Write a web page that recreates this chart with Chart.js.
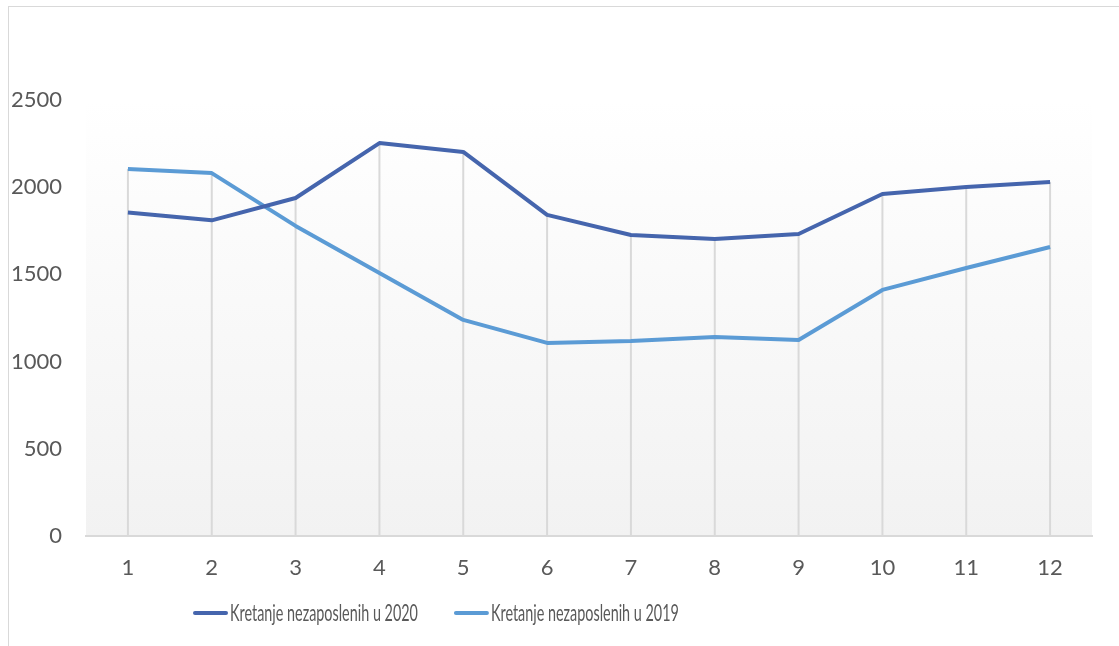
<!DOCTYPE html>
<html>
<head>
<meta charset="utf-8">
<script src="https://cdn.jsdelivr.net/npm/chart.js@4.4.1/dist/chart.umd.min.js"></script>
<style>
    html, body { margin: 0; padding: 0; background: #fff; }
    #wrap { position: relative; width: 1119px; height: 646px; overflow: hidden; }
    #frame { position: absolute; left: 8px; top: 6px; width: 1200px; height: 700px;
             border-left: 1px solid #d9d9d9; border-top: 1px solid #d9d9d9; }
    #chart { position: absolute; left: 0; top: 0; }
</style>
</head>
<body>
<div id="wrap">
    <div id="frame"></div>
    <canvas id="chart" width="1119" height="646"></canvas>
</div>
<script>
// Chart data
const months = ['1', '2', '3', '4', '5', '6', '7', '8', '9', '10', '11', '12'];
const nezaposleni2020 = [1855, 1810, 1938, 2253, 2202, 1841, 1726, 1703, 1732, 1961, 2001, 2030];
const nezaposleni2019 = [2104, 2081, 1778, 1508, 1239, 1107, 1118, 1141, 1124, 1411, 1537, 1657];
const yTicks = [0, 500, 1000, 1500, 2000, 2500];

const textColor = '#595959';
const fontFamily = 'Lato, "Open Sans", sans-serif';

// Plot area gradient background
const plotBackground = {
    id: 'plotBackground',
    beforeDraw(chart) {
        const { ctx, chartArea } = chart;
        const grad = ctx.createLinearGradient(0, chartArea.top, 0, chartArea.bottom);
        grad.addColorStop(0, '#ffffff');
        grad.addColorStop(1, '#f2f2f2');
        ctx.save();
        ctx.fillStyle = grad;
        ctx.fillRect(chartArea.left, chartArea.top, chartArea.right - chartArea.left, chartArea.bottom - chartArea.top);
        ctx.restore();
    }
};

// Drop lines from highest point of each category down to the axis
const dropLines = {
    id: 'dropLines',
    beforeDatasetsDraw(chart) {
        const { ctx, chartArea, scales } = chart;
        ctx.save();
        ctx.strokeStyle = '#d9d9d9';
        ctx.lineWidth = 2;
        months.forEach((m, i) => {
            const top = Math.max(...chart.data.datasets.map(ds => ds.data[i]));
            const x = scales.x.getPixelForValue(i);
            ctx.beginPath();
            ctx.moveTo(x, scales.y.getPixelForValue(top));
            ctx.lineTo(x, chartArea.bottom);
            ctx.stroke();
        });
        ctx.restore();
    }
};

// Legend drawn by hand: the original uses a narrow, tall face
const narrowLegend = {
    id: 'narrowLegend',
    afterDraw(chart) {
        const { ctx } = chart;
        const squeeze = 0.625;
        const lineLen = 35;
        const gap = 2;
        const itemGap = 36;
        const y = 613;
        let x = 193;
        ctx.save();
        ctx.font = '23px ' + fontFamily;
        ctx.textBaseline = 'middle';
        chart.data.datasets.forEach(ds => {
            ctx.strokeStyle = ds.borderColor;
            ctx.lineWidth = 4;
            ctx.lineCap = 'round';
            ctx.beginPath();
            ctx.moveTo(x + 2, y);
            ctx.lineTo(x + lineLen - 2, y);
            ctx.stroke();
            x += lineLen + gap;
            const w = ctx.measureText(ds.label).width * squeeze;
            ctx.save();
            ctx.translate(x, y);
            ctx.scale(squeeze, 1);
            ctx.fillStyle = textColor;
            ctx.fillText(ds.label, 0, 1);
            ctx.restore();
            x += w + itemGap;
        });
        ctx.restore();
    }
};

const ctx = document.getElementById('chart');
new Chart(ctx, {
    type: 'line',
    data: {
        labels: months,
        datasets: [
            {
                label: 'Kretanje nezaposlenih u 2020',
                data: nezaposleni2020,
                borderColor: '#4565ad',
                backgroundColor: '#4565ad',
                borderWidth: 4,
                pointRadius: 0,
                tension: 0,
                borderJoinStyle: 'round'
            },
            {
                label: 'Kretanje nezaposlenih u 2019',
                data: nezaposleni2019,
                borderColor: '#5b9bd5',
                backgroundColor: '#5b9bd5',
                borderWidth: 4,
                pointRadius: 0,
                tension: 0,
                borderJoinStyle: 'round'
            }
        ]
    },
    options: {
        responsive: false,
        animation: false,
        layout: {
            padding: { top: 100, right: 27, bottom: 58, left: 0 }
        },
        plugins: {
            legend: { display: false },
            tooltip: { enabled: false }
        },
        scales: {
            x: {
                offset: true,
                grid: { display: false, drawTicks: false },
                border: { color: '#d9d9d9', width: 2 },
                ticks: {
                    color: textColor,
                    font: { family: fontFamily, size: 22 },
                    padding: 19,
                    maxRotation: 0
                },
                afterFit(scale) { scale.height = 52; }
            },
            y: {
                min: 0,
                max: 2500,
                afterBuildTicks(scale) { scale.ticks = yTicks.map(v => ({ value: v })); },
                grid: { display: false, drawTicks: false },
                border: { display: false },
                ticks: {
                    color: textColor,
                    font: { family: fontFamily, size: 22 },
                    padding: 24,
                    callback: v => String(v)
                },
                afterFit(scale) { scale.width = 86; }
            }
        }
    },
    plugins: [plotBackground, dropLines, narrowLegend]
});
</script>
</body>
</html>
